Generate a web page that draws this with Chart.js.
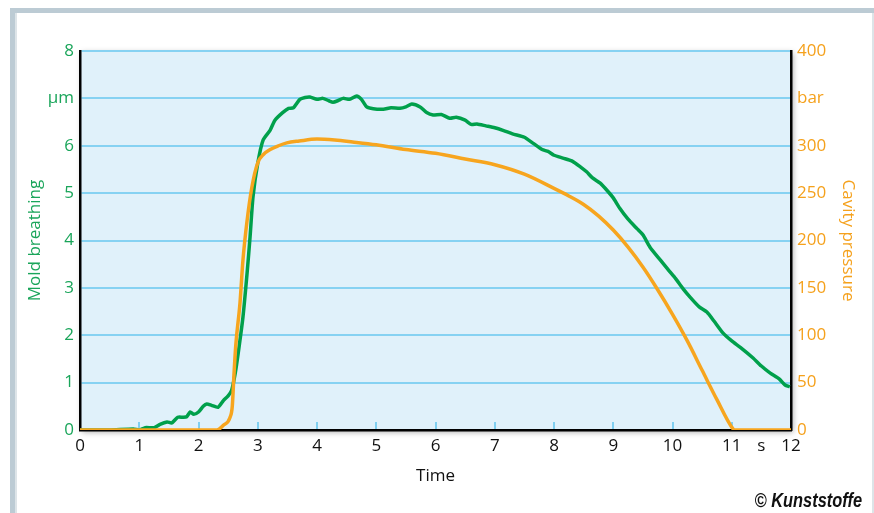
<!DOCTYPE html>
<html>
<head>
<meta charset="utf-8">
<script src="https://cdn.jsdelivr.net/npm/chart.js@4"></script>
<style>
  html, body { margin: 0; padding: 0; background: #fff; }
  #wrap { width: 874px; height: 513px; }
</style>
</head>
<body>
<div id="wrap"><canvas id="myChart" width="874" height="513"></canvas></div>
<script>
const ctx = document.getElementById('myChart');

// mold breathing (µm) over time (s)
const breathTime = [0, 0.5, 0.9, 1.0, 1.1, 1.25, 1.35, 1.47, 1.55, 1.65, 1.74, 1.8, 1.86, 1.92, 2.0, 2.08, 2.14, 2.22, 2.33, 2.42, 2.5, 2.56,
  2.62, 2.67, 2.75, 2.82, 2.87, 2.92, 3.0, 3.09, 3.21, 3.29, 3.42, 3.52, 3.6, 3.71, 3.8, 3.88, 4.0, 4.1, 4.2, 4.27, 4.35, 4.44,
  4.55, 4.67, 4.75, 4.84, 4.95, 5.12, 5.25, 5.4, 5.5, 5.6, 5.74, 5.85, 5.96, 6.1, 6.24, 6.35, 6.5, 6.6, 6.7, 6.85, 7.0, 7.15, 7.3,
  7.5, 7.65, 7.8, 7.9, 8.0, 8.15, 8.3, 8.45, 8.55, 8.65, 8.78, 8.9, 9.0, 9.11, 9.25, 9.4, 9.5, 9.62, 9.8, 9.95, 10.05, 10.18, 10.3,
  10.45, 10.58, 10.7, 10.85, 11.0, 11.15, 11.36, 11.5, 11.65, 11.8, 11.9, 11.98];
const breathing = [0, 0, 0.02, 0, 0.05, 0.05, 0.12, 0.17, 0.15, 0.27, 0.27, 0.28, 0.38, 0.33, 0.38, 0.5, 0.55, 0.52, 0.48, 0.62, 0.72, 0.84,
  1.2, 1.62, 2.38, 3.31, 4.07, 4.92, 5.63, 6.12, 6.33, 6.54, 6.7, 6.79, 6.8, 6.98, 7.02, 7.03, 6.98, 7.0, 6.95, 6.92, 6.95, 7.0,
  6.98, 7.05, 6.98, 6.82, 6.78, 6.77, 6.8, 6.79, 6.82, 6.88, 6.82, 6.7, 6.65, 6.66, 6.58, 6.6, 6.54, 6.45, 6.46, 6.42, 6.38, 6.32, 6.25,
  6.18, 6.05, 5.92, 5.88, 5.8, 5.74, 5.68, 5.55, 5.45, 5.32, 5.21, 5.05, 4.9, 4.68, 4.45, 4.25, 4.12, 3.86, 3.58, 3.35, 3.2, 2.98, 2.8,
  2.6, 2.49, 2.3, 2.05, 1.88, 1.74, 1.52, 1.35, 1.2, 1.08, 0.95, 0.91];

// cavity pressure (bar) over time (s)
const pressTime = [0, 2.31, 2.42, 2.53, 2.57, 2.6, 2.63, 2.7, 2.75, 2.82, 2.9, 3.0, 3.1, 3.21, 3.35, 3.49, 3.7, 4.0,
  4.3, 4.6, 5.0, 5.5, 6.0, 6.5, 7.0, 7.5, 8.0, 8.25, 8.5, 8.75, 9.0, 9.25, 9.5, 9.75, 10.0, 10.25, 10.5, 10.75, 11.0, 11.05, 12];
const pressure = [0, 0, 5, 13, 25, 60, 90, 134, 179, 221, 256, 282, 291, 296, 300, 303, 305, 307,
  306, 304, 301, 296, 292, 286, 280, 270, 255, 247, 238, 226, 211, 193, 172, 148, 122, 94, 63, 32, 3, 0, 0];

const timeTicks = [0, 1, 2, 3, 4, 5, 6, 7, 8, 9, 10, 11, 11.5, 12];

const green = '#00a04b';
const orange = '#f7a51e';
const font = "'Open Sans', 'Noto Sans', sans-serif";

const backdrop = {
  id: 'backdrop',
  beforeDraw(chart) {
    const c = chart.ctx;
    const a = chart.chartArea;
    c.save();
    c.fillStyle = '#fff';
    c.fillRect(0, 0, chart.width, chart.height);
    c.fillStyle = '#bccbd4';
    c.fillRect(10, 8, chart.width - 10, 5);
    c.fillRect(10, 8, 5, chart.height - 8);
    c.fillStyle = '#dde4e8';
    c.fillRect(15, 13, 2, chart.height - 13);
    c.fillRect(872, 13, 2, chart.height - 13);
    c.shadowColor = 'rgba(0,0,0,0.35)';
    c.shadowBlur = 6;
    c.shadowOffsetX = 2;
    c.shadowOffsetY = 2;
    c.fillStyle = '#e0f1fa';
    c.fillRect(a.left, a.top, a.right - a.left, a.bottom - a.top);
    c.restore();
  },
  beforeDatasetsDraw(chart) {
    const c = chart.ctx;
    const x = chart.scales.x;
    const a = chart.chartArea;
    c.save();
    c.strokeStyle = '#7fcff0';
    c.lineWidth = 2;
    for (let t = 1; t <= 11; t++) {
      const px = Math.round(x.getPixelForValue(t));
      c.beginPath();
      c.moveTo(px, a.bottom - 1);
      c.lineTo(px, a.bottom - 8);
      c.stroke();
    }
    c.restore();
  },
  afterDraw(chart) {
    const c = chart.ctx;
    c.save();
    c.translate(862, 507);
    c.scale(0.82, 1);
    c.fillStyle = '#111';
    c.font = "italic bold 20px 'Liberation Sans', 'DejaVu Sans', sans-serif";
    c.textAlign = 'right';
    c.textBaseline = 'alphabetic';
    c.fillText('© Kunststoffe', 0, 0);
    c.restore();
  }
};

new Chart(ctx, {
  type: 'line',
  data: {
    datasets: [{
      label: 'Cavity pressure',
      data: pressTime.map((t, i) => ({ x: t, y: pressure[i] })),
      yAxisID: 'y2',
      borderColor: orange,
      borderWidth: 3.5,
      pointRadius: 0,
      cubicInterpolationMode: 'monotone',
      order: 0
    }, {
      label: 'Mold breathing',
      data: breathTime.map((t, i) => ({ x: t, y: breathing[i] })),
      yAxisID: 'y',
      borderColor: green,
      borderWidth: 3.5,
      pointRadius: 0,
      tension: 0.2,
      order: 1
    }]
  },
  options: {
    responsive: false,
    animation: false,
    events: [],
    layout: { padding: { top: 51, left: 0, right: 0, bottom: 0 } },
    plugins: { legend: { display: false }, tooltip: { enabled: false } },
    scales: {
      x: {
        type: 'linear',
        min: 0,
        max: 12,
        afterBuildTicks: scale => { scale.ticks = timeTicks.map(v => ({ value: v })); },
        afterFit: scale => { scale.height = 83; },
        grid: { display: false, drawTicks: false },
        border: { display: true, color: '#000', width: 2.5 },
        ticks: {
          autoSkip: false,
          maxRotation: 0,
          padding: 6,
          color: '#111',
          font: { family: font, size: 17 },
          callback: v => v === 11.5 ? 's' : v
        },
        title: {
          display: true,
          text: 'Time',
          color: '#111',
          font: { family: font, size: 17 },
          padding: { top: 0, bottom: 27 }
        }
      },
      y: {
        position: 'left',
        min: 0,
        max: 8,
        afterFit: scale => { scale.width = 80; },
        grid: { color: '#86d2f2', lineWidth: 2, drawTicks: false },
        border: { display: true, color: '#000', width: 2.5 },
        ticks: {
          stepSize: 1,
          padding: 6,
          color: '#1aa55a',
          font: { family: font, size: 17 },
          callback: v => v === 7 ? 'µm' : v
        },
        title: {
          display: true,
          text: 'Mold breathing',
          color: '#1aa55a',
          font: { family: font, size: 17 },
          padding: { top: 25, bottom: 0 }
        }
      },
      y2: {
        position: 'right',
        min: 0,
        max: 400,
        afterFit: scale => { scale.width = 83; },
        grid: { display: false, drawTicks: false },
        border: { display: true, color: '#000', width: 2.5 },
        ticks: {
          stepSize: 50,
          padding: 6,
          color: '#f5a11c',
          font: { family: font, size: 17 },
          callback: v => v === 350 ? 'bar' : v
        },
        title: {
          display: true,
          text: 'Cavity pressure',
          color: '#f5a11c',
          font: { family: font, size: 17 },
          padding: { top: 16, bottom: 0 }
        }
      }
    }
  },
  plugins: [backdrop]
});
</script>
</body>
</html>
